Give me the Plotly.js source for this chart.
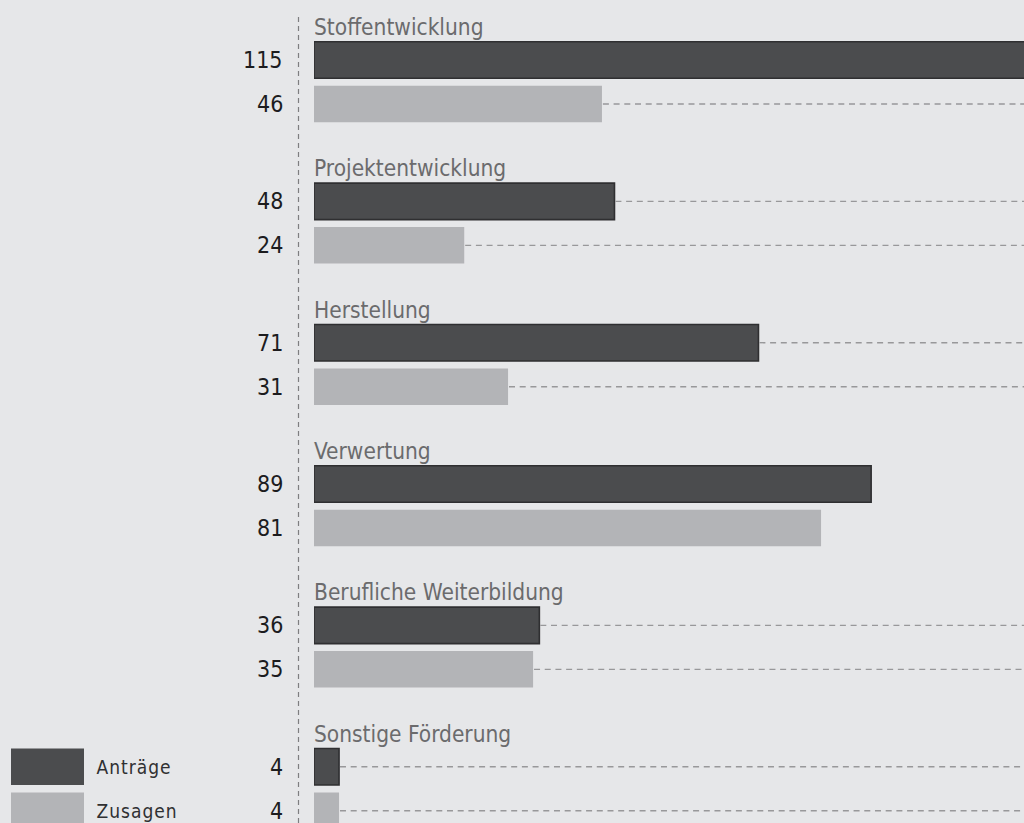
<!DOCTYPE html>
<html>
<head>
<meta charset="utf-8">
<script src="https://cdn.plot.ly/plotly-3.0.1.min.js"></script>
<style>
html,body{margin:0;padding:0;background:#e6e7e9;}
#chart{width:1024px;height:823px;}
</style>
</head>
<body>
<div id="chart"></div>
<script>
// ---- data ----
const categories = ["Stoffentwicklung", "Projektentwicklung", "Herstellung", "Verwertung", "Berufliche Weiterbildung", "Sonstige Förderung"];
const antraege = [115, 48, 71, 89, 36, 4];
const zusagen  = [46, 24, 31, 81, 35, 4];
const seriesNames = ["Anträge", "Zusagen"];
// leader lines shown per category (Anträge, Zusagen)
const leaderAntraege = [false, true, true, false, true, true];
const leaderZusagen  = [true, true, true, false, true, true];

// ---- layout helpers (pixels -> axis units) ----
const W = 1024, H = 823, L = 314;
const pxPerUnitX = 6.26;
const xMax = (W - L) / pxPerUnitX;
const groupPx = 141.34, firstCenterPx = 60;
const u = px => px / groupPx;              // px -> y units
const yTop = -u(firstCenterPx), yBottom = u(H - firstCenterPx);
const zOffset = u(44), barW = u(36.5), labelOffset = u(-33);

const yA = categories.map((c, i) => i);
const yZ = categories.map((c, i) => i + zOffset);

const darkCol = "#4b4c4e", lightCol = "#b3b4b7";

const traces = [
  {type: "bar", orientation: "h", name: seriesNames[0], x: antraege, y: yA,
   width: yA.map(() => barW), marker: {color: darkCol, line: {color: "#2f2f31", width: 1.6}},
   hoverinfo: "x"},
  {type: "bar", orientation: "h", name: seriesNames[1], x: zusagen, y: yZ,
   width: yZ.map(() => barW), marker: {color: lightCol, line: {width: 0}},
   hoverinfo: "x"}
];

// dashed leader lines from bar end to right edge
function addLeaders(vals, ys, flags) {
  vals.forEach((v, i) => {
    if (!flags[i]) return;
    traces.push({type: "scatter", mode: "lines", x: [v + 0.15, xMax], y: [ys[i], ys[i]],
      line: {color: "#98989a", width: 1.4, dash: "6px,4.7px"}, hoverinfo: "skip", showlegend: false});
  });
}
addLeaders(antraege, yA, leaderAntraege);
addLeaders(zusagen, yZ, leaderZusagen);

const numFont = {family: "Liberation Sans Narrow, DejaVu Sans Condensed, sans-serif", size: 23, color: "#1c1c1e"};
const catFont = {family: "DejaVu Sans Condensed, sans-serif", size: 22.5, color: "#6b6b6d"};
const legFont = {family: "DejaVu Sans Condensed, sans-serif", size: 19, color: "#303032"};

const annotations = [];
categories.forEach((c, i) => {
  annotations.push({xref: "x", yref: "y", x: 0, y: yA[i] + labelOffset, text: c, showarrow: false,
    xanchor: "left", yanchor: "middle", font: catFont, xshift: -2});
  annotations.push({xref: "paper", yref: "y", x: (285 - L) / (W - L), y: yA[i], text: String(antraege[i]),
    showarrow: false, xanchor: "right", yanchor: "middle", font: numFont});
  annotations.push({xref: "paper", yref: "y", x: (285 - L) / (W - L), y: yZ[i], text: String(zusagen[i]),
    showarrow: false, xanchor: "right", yanchor: "middle", font: numFont});
});

// legend (drawn beside the last category rows)
const last = categories.length - 1;
const px2paperX = px => (px - L) / (W - L);
const shapes = [
  {type: "line", xref: "paper", yref: "paper", x0: px2paperX(298.5), x1: px2paperX(298.5), y0: 0, y1: 1 - 15 / H,
   line: {color: "#7e7e80", width: 1.2, dash: "5px,4px"}},
  {type: "rect", xref: "paper", yref: "y", x0: px2paperX(11), x1: px2paperX(84),
   y0: yA[last] - barW / 2, y1: yA[last] + barW / 2, fillcolor: darkCol, line: {width: 0}},
  {type: "rect", xref: "paper", yref: "y", x0: px2paperX(11), x1: px2paperX(84),
   y0: yZ[last] - barW / 2, y1: yZ[last] + barW / 2, fillcolor: lightCol, line: {width: 0}}
];
annotations.push({xref: "paper", yref: "y", x: px2paperX(98), y: yA[last], text: seriesNames[0],
  showarrow: false, xanchor: "left", yanchor: "middle", font: legFont});
annotations.push({xref: "paper", yref: "y", x: px2paperX(98), y: yZ[last], text: seriesNames[1],
  showarrow: false, xanchor: "left", yanchor: "middle", font: legFont});

const layout = {
  width: W, height: H,
  margin: {l: L, r: 0, t: 0, b: 0, pad: 0},
  paper_bgcolor: "#e6e7e9", plot_bgcolor: "#e6e7e9",
  barmode: "overlay", showlegend: false,
  xaxis: {range: [0, xMax], visible: false, fixedrange: true},
  yaxis: {range: [yBottom, yTop], visible: false, fixedrange: true},
  annotations: annotations, shapes: shapes
};

Plotly.newPlot("chart", traces, layout, {displayModeBar: false, staticPlot: true}).then(() => {
  document.querySelectorAll(".annotation-text").forEach(el => {
    if (seriesNames.includes(el.textContent)) el.style.letterSpacing = "1px";
  });
});
</script>
</body>
</html>
